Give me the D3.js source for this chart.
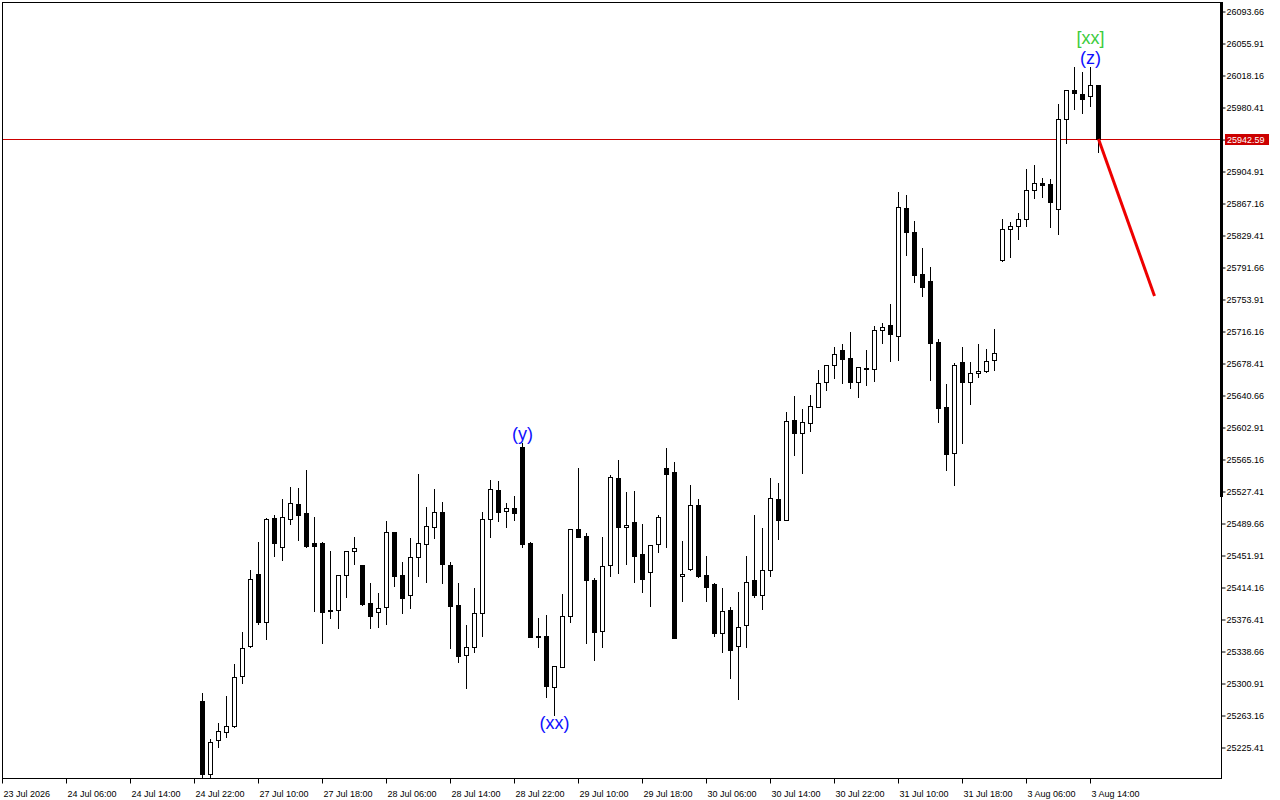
<!DOCTYPE html>
<html><head><meta charset="utf-8">
<script src="https://cdn.jsdelivr.net/npm/d3@7"></script>
<style>
html,body{margin:0;padding:0;background:#fff;}
svg{display:block;font-family:"Liberation Sans",Arial,sans-serif;}
</style>
</head><body>
<svg id="chart" width="1280" height="800"></svg>
<script>
// ---------- data (H1 candles, oldest first) ----------
const firstSlot = 25; // bar position of first candle relative to left edge of chart
const openP = [25279.7,25193.2,25233.3,25242.8,25249.8,25308.8,25344.2,25429.5,25373.2,25495.2,
25461.7,25494.7,25512.4,25501.5,25466.1,25466.1,25386.7,25386.7,25428.0,25456.3,
25440.1,25394.9,25384.3,25390.2,25478.7,25428.0,25404.4,25449.2,25464.5,25484.6,
25502.3,25439.8,25392.6,25333.6,25343.0,25383.8,25494.0,25528.2,25503.5,25507.0,
25579.3,25466.1,25356.4,25356.0,25295.9,25320.1,25380.3,25482.2,25474.0,25422.1,
25361.9,25440.5,25542.4,25484.6,25490.5,25452.7,25431.5,25464.5,25554.2,25549.5,
25426.8,25435.0,25510.5,25428.0,25417.4,25359.5,25386.7,25344.2,25369.0,25422.4,
25405.1,25433.9,25517.6,25493.6,25611.2,25596.2,25608.0,25626.9,25655.6,25675.7,
25693.4,25684.0,25655.6,25672.5,25671.7,25717.0,25722.9,25709.9,25860.9,25832.6,
25783.1,25774.8,25702.8,25626.2,25571.9,25679.2,25655.6,25666.3,25668.6,25681.6,
25799.6,25836.1,25839.7,25847.9,25882.1,25890.4,25889.2,25859.7,25965.9,26000.1,
25995.4,25993.0,26006.4];
const highP = [25288.8,25234.5,25253.4,25285.6,25323.0,25361.1,25434.2,25467.6,25495.6,25499.1,
25518.0,25532.1,25531.0,25552.2,25496.7,25467.0,25457.0,25428.0,25456.6,25473.1,
25440.1,25418.9,25407.1,25492.0,25479.0,25443.7,25472.0,25547.5,25508.5,25529.8,
25514.4,25443.7,25418.9,25369.3,25413.0,25502.6,25540.4,25539.2,25513.3,25521.2,
25583.7,25467.6,25377.3,25381.1,25320.6,25405.9,25482.2,25554.2,25477.5,25424.8,
25472.8,25546.3,25564.0,25526.2,25527.4,25488.5,25463.4,25499.1,25578.1,25561.6,
25468.1,25534.5,25517.6,25450.7,25418.5,25413.0,25390.6,25408.3,25450.7,25499.1,
25483.4,25542.4,25536.8,25620.3,25639.1,25623.8,25640.3,25670.2,25675.7,25697.3,
25700.8,25714.6,25673.3,25693.8,25722.1,25725.2,25748.0,25880.1,25876.6,25845.6,
25813.7,25791.3,25706.4,25653.3,25678.8,25697.3,25679.6,25700.8,25694.9,25718.5,
25848.3,25844.8,25855.4,25907.3,25912.0,25896.7,25895.1,25983.6,26000.1,26027.6,
26021.7,26027.6,26006.4];
const lowP = [25190.0,25190.0,25225.8,25237.6,25249.0,25301.3,25343.5,25370.5,25352.8,25451.1,
25446.0,25488.8,25469.6,25461.0,25386.2,25348.4,25378.0,25366.2,25402.0,25441.6,
25392.9,25366.2,25367.3,25370.9,25415.3,25383.8,25389.7,25427.5,25420.4,25472.3,
25419.2,25342.5,25326.0,25295.0,25337.8,25356.7,25473.5,25492.4,25485.3,25493.6,
25461.4,25355.0,25343.7,25284.8,25263.2,25319.5,25373.2,25473.0,25348.4,25328.4,
25343.7,25427.1,25431.0,25441.6,25420.4,25408.3,25392.1,25455.8,25461.7,25354.0,
25398.0,25434.5,25425.6,25398.0,25356.7,25337.1,25307.2,25282.4,25343.0,25402.7,
25388.6,25427.5,25470.8,25493.0,25569.9,25548.6,25598.2,25626.0,25646.6,25660.7,
25655.2,25649.3,25638.3,25652.5,25657.5,25702.4,25681.1,25682.3,25806.2,25774.3,
25757.8,25658.4,25609.2,25551.8,25534.1,25584.4,25629.7,25661.5,25667.4,25670.5,
25799.0,25803.8,25824.3,25840.4,25873.4,25873.9,25839.2,25831.0,25937.6,25977.7,
25973.0,25981.2,25927.7];
const closeP = [25193.2,25231.0,25243.9,25249.8,25307.6,25341.8,25423.2,25373.2,25494.4,25466.4,
25496.4,25513.3,25499.5,25462.9,25462.9,25385.0,25386.2,25428.0,25456.6,25459.8,
25394.1,25380.3,25389.0,25478.7,25427.5,25400.8,25449.2,25465.7,25485.8,25502.3,
25440.9,25392.1,25333.1,25343.0,25383.1,25494.0,25529.4,25503.0,25507.0,25501.8,
25465.2,25355.5,25355.5,25297.7,25320.6,25379.6,25482.2,25473.5,25422.8,25360.7,
25439.3,25543.6,25484.6,25487.0,25451.1,25424.0,25463.4,25496.4,25547.8,25354.3,
25429.2,25510.5,25427.5,25414.5,25359.5,25385.5,25340.2,25366.6,25419.7,25404.7,
25433.9,25518.8,25493.2,25609.6,25596.2,25608.5,25627.3,25654.5,25675.7,25688.7,
25683.5,25655.6,25673.3,25671.0,25717.0,25720.5,25713.0,25862.1,25832.6,25782.6,
25768.4,25702.4,25625.7,25571.4,25676.1,25656.4,25666.3,25668.6,25680.4,25689.9,
25836.5,25839.7,25847.9,25882.1,25890.4,25888.0,25868.0,25965.9,26000.1,25996.6,
25989.5,26006.0,25942.59];

const timeLabels = ["23 Jul 2026","24 Jul 06:00","24 Jul 14:00","24 Jul 22:00","27 Jul 10:00",
"27 Jul 18:00","28 Jul 06:00","28 Jul 14:00","28 Jul 22:00","29 Jul 10:00","29 Jul 18:00",
"30 Jul 06:00","30 Jul 14:00","30 Jul 22:00","31 Jul 10:00","31 Jul 18:00","3 Aug 06:00","3 Aug 14:00"];
const barsPerLabel = 8;

const priceTicks = [26093.66,26055.91,26018.16,25980.41,25942.59,25904.91,25867.16,25829.41,25791.66,
25753.91,25716.16,25678.41,25640.66,25602.91,25565.16,25527.41,25489.66,25451.91,25414.16,
25376.41,25338.66,25300.91,25263.16,25225.41];
const lastPrice = 25942.59;

// projected move (red line): bar slot and price
const forecastSlots = [137, 144];
const forecastPrices = [25942.59, 25757.5];

// wave labels: text, candle index, anchor, colour
const waveText   = ["(y)", "(xx)", "(z)", "[xx]"];
const waveCandle = [40, 44, 111, 111];
const waveAnchor = ["high", "low", "high", "high"];
const waveColor  = ["#1010ff", "#1010ff", "#1010ff", "#3ccc3c"];

// ---------- layout ----------
const L = 2, T = 2, R = 1222, B = 778;
const svg = d3.select("#chart");
svg.append("rect").attr("width",1280).attr("height",800).attr("fill","#fff");

const x = d3.scaleLinear().domain([0, 1]).range([L + 0.5, L + 8.5]);
const y = d3.scaleLinear().domain([25225.41, 26093.66]).range([747, 11]);

svg.append("clipPath").attr("id","plot")
  .append("rect").attr("x",L).attr("y",T).attr("width",R-L).attr("height",B-T);

const g = svg.append("g").attr("clip-path","url(#plot)");

// last price horizontal line
g.append("line")
  .attr("x1",L).attr("x2",R)
  .attr("y1",Math.round(y(lastPrice))+0.5).attr("y2",Math.round(y(lastPrice))+0.5)
  .attr("stroke","#cc0000").attr("stroke-width",1);

const candles = openP.map((o,i)=>({i, o, h:highP[i], l:lowP[i], c:closeP[i]}));

const cg = g.selectAll("g.c").data(candles).join("g").attr("class","c");
cg.append("line")
  .attr("x1",d=>x(firstSlot+d.i)).attr("x2",d=>x(firstSlot+d.i))
  .attr("y1",d=>Math.round(y(d.h))).attr("y2",d=>Math.round(y(d.l))+1)
  .attr("stroke","#000").attr("stroke-width",1);
cg.each(function(d){
  const sel = d3.select(this);
  const cx = x(firstSlot+d.i);
  const top = Math.round(y(Math.max(d.o,d.c)));
  const bot = Math.round(y(Math.min(d.o,d.c)));
  if (bot - top < 1) {
    sel.append("line").attr("x1",cx-2.5).attr("x2",cx+2.5)
      .attr("y1",top+0.5).attr("y2",top+0.5).attr("stroke","#000").attr("stroke-width",1);
  } else {
    sel.append("rect").attr("x",cx-2).attr("y",top+0.5).attr("width",4).attr("height",bot-top)
      .attr("fill", d.c < d.o ? "#000" : "#fff").attr("stroke","#000").attr("stroke-width",1);
  }
});

// forecast line
g.append("line")
  .attr("x1",x(forecastSlots[0])).attr("y1",y(forecastPrices[0]))
  .attr("x2",x(forecastSlots[1])).attr("y2",y(forecastPrices[1]))
  .attr("stroke","#ee0000").attr("stroke-width",3);

// wave labels
const stackCount = {};
waveText.forEach((t,k)=>{
  const i = waveCandle[k];
  const key = i + waveAnchor[k];
  const lvl = stackCount[key] || 0; stackCount[key] = lvl + 1;
  const cx = x(firstSlot + i);
  let yy;
  if (waveAnchor[k] === "high") yy = y(highP[i]) - 3 - lvl*20;
  else yy = y(lowP[i]) + 14;
  g.append("text").attr("x",cx).attr("y",yy).attr("text-anchor","middle")
    .attr("font-size",18).attr("fill",waveColor[k]).text(t);
});

// frame
svg.append("rect").attr("x",L+0.5).attr("y",T+0.5).attr("width",R-L-1).attr("height",B-T)
  .attr("fill","none").attr("stroke","#000").attr("stroke-width",1);
// thick part of the price scale
svg.append("rect").attr("x",R-2).attr("y",T).attr("width",3).attr("height",495).attr("fill","#000");

// price axis
const axisR = d3.axisRight(y).tickValues(priceTicks).tickSize(4).tickPadding(1)
  .tickFormat(d=>d3.format(".2f")(d));
const ay = svg.append("g").attr("transform",`translate(${R-0.5},0.5)`).call(axisR);
ay.select(".domain").remove();
ay.selectAll("text").attr("font-family","Liberation Sans, Arial, sans-serif").attr("font-size",9).attr("fill","#000")
  .attr("dy","0.35em");
ay.selectAll(".tick line").attr("stroke","#000");

// current price tag
const py = Math.round(y(lastPrice));
svg.append("rect").attr("x",R+3).attr("y",py-5).attr("width",44).attr("height",11).attr("fill","#cc0000");
svg.append("text").attr("x",R+5).attr("y",py+0.5).attr("dy","0.35em")
  .attr("font-size",9).attr("fill","#fff").text(d3.format(".2f")(lastPrice));

// time axis
const tickSlots = timeLabels.map((_,k)=>k*barsPerLabel);
const ax = d3.axisBottom(x).tickValues(tickSlots).tickSize(5).tickPadding(0)
  .tickFormat((d,k)=>timeLabels[k]);
const gx = svg.append("g").attr("transform",`translate(-0.5,${B+0.5})`).call(ax);
gx.select(".domain").remove();
gx.selectAll(".tick line").attr("stroke","#000");
gx.selectAll("text").attr("text-anchor","start").attr("x",1).attr("y",12)
  .attr("font-family","Liberation Sans, Arial, sans-serif").attr("font-size",9).attr("fill","#000");
</script>
</body></html>
